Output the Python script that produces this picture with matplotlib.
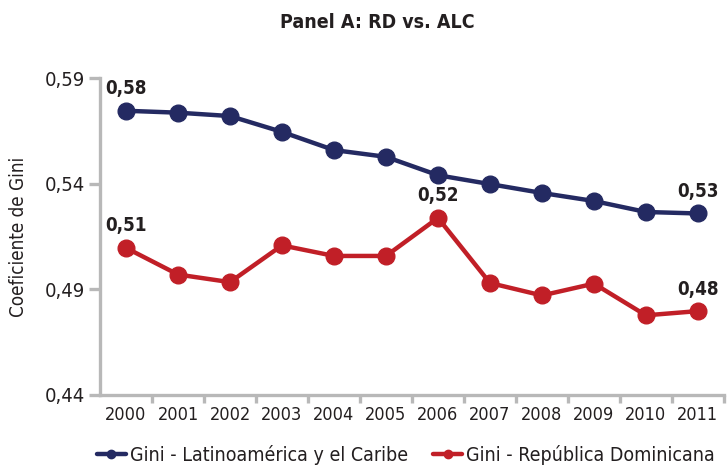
import matplotlib.pyplot as plt
from matplotlib.ticker import FixedLocator

plt.rcParams['font.family'] = ['DejaVu Sans']
plt.rcParams['font.stretch'] = 'condensed'

years = ['2000', '2001', '2002', '2003', '2004', '2005',
         '2006', '2007', '2008', '2009', '2010', '2011']
gini_alc = [0.5745, 0.5736, 0.5720, 0.5645, 0.5559, 0.5527,
            0.5440, 0.5398, 0.5356, 0.5318, 0.5266, 0.5259]
gini_rd = [0.5096, 0.4970, 0.4934, 0.5108, 0.5058, 0.5058,
           0.5238, 0.4930, 0.4871, 0.4927, 0.4777, 0.4797]
y_ticks = [0.44, 0.49, 0.54, 0.59]
y_tick_labels = ['0,44', '0,49', '0,54', '0,59']

# (serie, indice, texto)
point_labels = [
    (gini_alc, 0, '0,58'),
    (gini_rd, 0, '0,51'),
    (gini_rd, 6, '0,52'),
    (gini_alc, 11, '0,53'),
    (gini_rd, 11, '0,48'),
]

navy = '#242a62'
red = '#c11f27'
grey = '#b8b8b8'
text_col = '#231f20'


def main():
    fig = plt.figure(figsize=(7.28, 4.68), dpi=100, facecolor='white')
    ax = fig.add_axes([0.1374, 0.156, 0.857, 0.6773])

    x = list(range(len(years)))
    ax.plot(x, gini_alc, color=navy, lw=3.2, marker='o', ms=12,
            label='Gini - Latinoamérica y el Caribe', solid_capstyle='round')
    ax.plot(x, gini_rd, color=red, lw=3.2, marker='o', ms=12,
            label='Gini - República Dominicana', solid_capstyle='round')

    for series, i, txt in point_labels:
        ax.annotate(txt, (x[i], series[i]), xytext=(0, 9),
                    textcoords='offset points', ha='center', va='bottom',
                    fontsize=13.5, fontweight='bold', color=text_col)

    ax.set_xlim(-0.5, len(years) - 0.5)
    ax.set_ylim(0.44, 0.59)
    ax.set_yticks(y_ticks)
    ax.set_yticklabels(y_tick_labels)
    ax.set_xticks(x)
    ax.set_xticklabels(years)
    ax.xaxis.set_minor_locator(FixedLocator([i + 0.5 for i in x[:-1]] + [len(years) - 0.5]))

    for side in ['top', 'right']:
        ax.spines[side].set_visible(False)
    for side in ['left', 'bottom']:
        ax.spines[side].set_color(grey)
        ax.spines[side].set_linewidth(2.4)

    ax.tick_params(axis='y', length=8, width=2.4, color=grey,
                   labelsize=14.5, labelcolor=text_col, pad=3)
    ax.tick_params(axis='x', which='major', length=0, labelsize=13,
                   labelcolor=text_col, pad=8)
    ax.tick_params(axis='x', which='minor', length=6, width=2.4, color=grey)

    ax.set_ylabel('Coeficiente de Gini', fontsize=13.5, color=text_col, labelpad=12)
    fig.text(0.518, 0.952, 'Panel A: RD vs. ALC', ha='center', va='center',
             fontsize=14, fontweight='bold', color=text_col)

    ax.legend(loc='upper center', bbox_to_anchor=(0.49, -0.115), ncol=2,
              frameon=False, fontsize=14, handlelength=1.5, markerscale=0.5,
              columnspacing=1.3, handletextpad=0.2, labelcolor=text_col,
              borderpad=0.2)

    fig.savefig('out.png', dpi=100, facecolor='white')


if __name__ == '__main__':
    main()
